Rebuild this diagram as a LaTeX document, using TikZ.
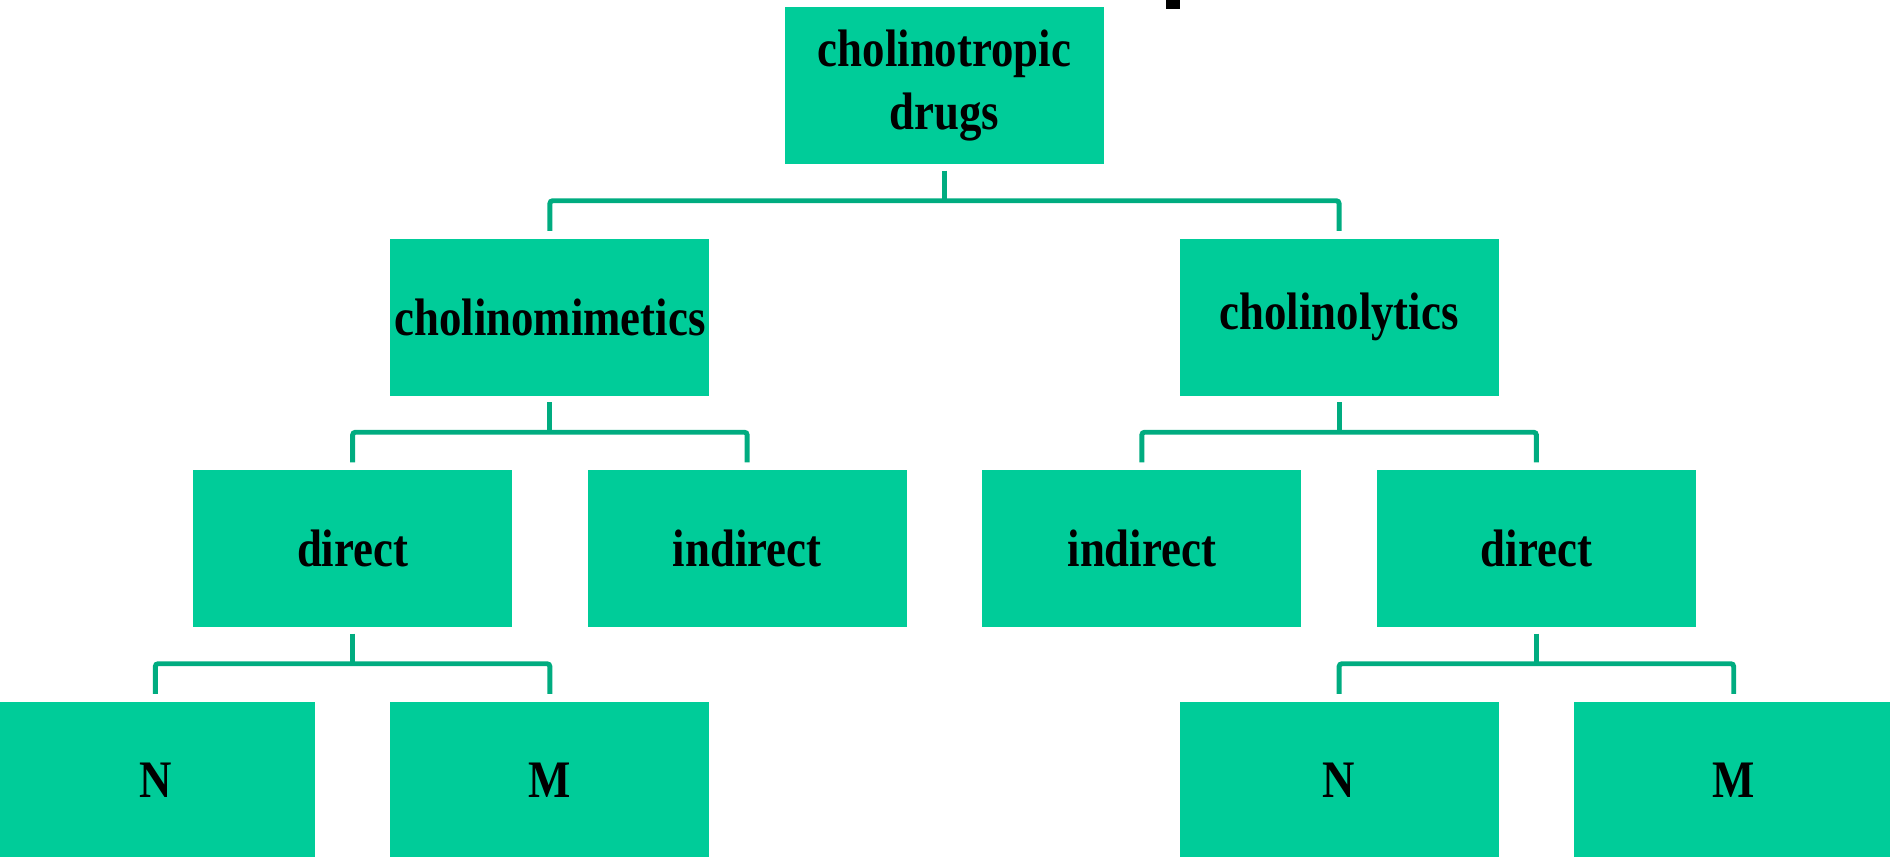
\documentclass[tikz,border=0pt]{standalone}
\usepackage{fontspec}
\usepackage{tikz}
\newfontfamily\boxfont{Liberation Serif}[FakeStretch=0.85]
\definecolor{boxgreen}{RGB}{0,204,153}
\definecolor{linkgreen}{RGB}{0,172,128}
\tikzstyle{drugbox} = [rectangle, fill=boxgreen, minimum width=3.19cm, minimum height=1.57cm, inner sep=0pt, align=center, font=\boxfont\bfseries\fontsize{15}{18}\selectfont]
\tikzstyle{link} = [draw=linkgreen, line width=1.4pt, rounded corners=0.8pt]

\begin{document}
\begin{tikzpicture}
    \useasboundingbox (0,0) rectangle (18.9,-8.56);
    % leftover of the cut title
    \fill[black] (11.66,0) rectangle (11.80,-0.09);

    \node [drugbox] (drugs) at (9.445,-0.855) {cholinotropic\\drugs};

    \node [drugbox] (mimetics) at (5.499,-3.17) {cholinomimetics};
    \node [drugbox] (lytics)   at (13.391,-3.17) {cholinolytics};

    \node [drugbox] (mimdirect)   at (3.526,-5.485) {direct};
    \node [drugbox] (mimindirect) at (7.472,-5.485) {indirect};
    \node [drugbox] (lytindirect) at (11.418,-5.485) {indirect};
    \node [drugbox] (lytdirect)   at (15.364,-5.485) {direct};

    \node [drugbox] (mimN) at (1.553,-7.80) {N};
    \node [drugbox] (mimM) at (5.499,-7.80) {M};
    \node [drugbox] (lytN) at (13.391,-7.80) {N};
    \node [drugbox] (lytM) at (17.337,-7.80) {M};

    % connectors
    \draw [link] ([yshift=-0.6mm]drugs.south) -- ([yshift=-3.6mm]drugs.south);
    \draw [link] ([yshift=0.7mm]mimetics.north) |- ([yshift=-3.6mm]drugs.south) -| ([yshift=0.7mm]lytics.north);

    \draw [link] ([yshift=-0.6mm]mimetics.south) -- ([yshift=-3.6mm]mimetics.south);
    \draw [link] ([yshift=0.7mm]mimdirect.north) |- ([yshift=-3.6mm]mimetics.south) -| ([yshift=0.7mm]mimindirect.north);

    \draw [link] ([yshift=-0.6mm]lytics.south) -- ([yshift=-3.6mm]lytics.south);
    \draw [link] ([yshift=0.7mm]lytindirect.north) |- ([yshift=-3.6mm]lytics.south) -| ([yshift=0.7mm]lytdirect.north);

    \draw [link] ([yshift=-0.6mm]mimdirect.south) -- ([yshift=-3.6mm]mimdirect.south);
    \draw [link] ([yshift=0.7mm]mimN.north) |- ([yshift=-3.6mm]mimdirect.south) -| ([yshift=0.7mm]mimM.north);

    \draw [link] ([yshift=-0.6mm]lytdirect.south) -- ([yshift=-3.6mm]lytdirect.south);
    \draw [link] ([yshift=0.7mm]lytN.north) |- ([yshift=-3.6mm]lytdirect.south) -| ([yshift=0.7mm]lytM.north);
\end{tikzpicture}
\end{document}
